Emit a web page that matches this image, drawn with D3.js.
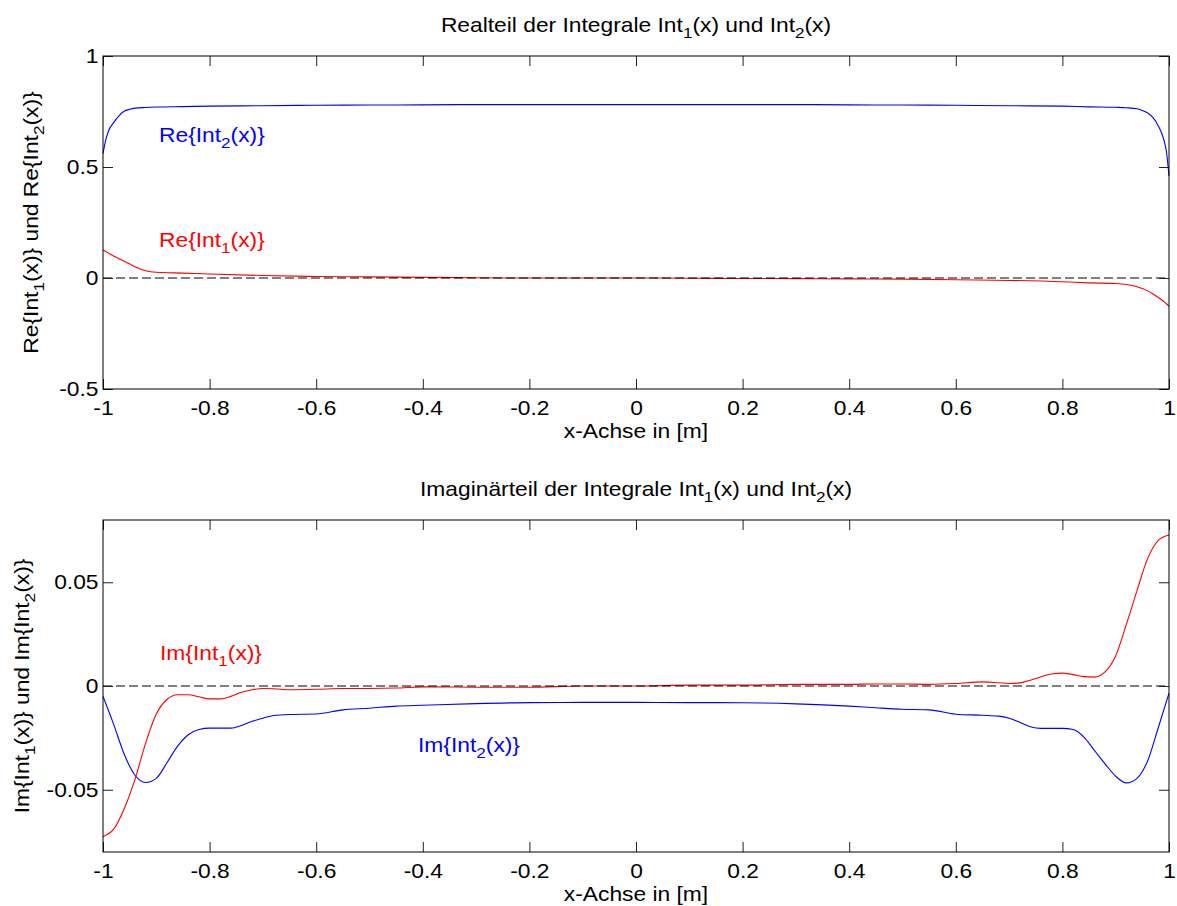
<!DOCTYPE html>
<html>
<head>
<meta charset="utf-8">
<script src="https://cdn.jsdelivr.net/npm/d3@7"></script>
<style>
  html, body { margin: 0; padding: 0; background: #fff; }
  svg { display: block; font-family: "Liberation Sans", Arial, Helvetica, sans-serif; }
</style>
</head>
<body>
<svg id="fig" width="1177" height="906"></svg>
<script>
// ---------- data ----------
// Real parts
const reX = [-1, -0.995, -0.99, -0.98, -0.97, -0.96, -0.95, -0.94, -0.92, -0.9, -0.85, -0.8, -0.7, -0.6, -0.5, -0.4, -0.3, -0.2, -0.1, 0,
             0.1, 0.2, 0.3, 0.4, 0.5, 0.6, 0.7, 0.8, 0.85, 0.9, 0.92, 0.94, 0.95, 0.96, 0.97, 0.98, 0.99, 0.995, 1];
const reInt1 = [0.126, 0.119, 0.112, 0.099, 0.087, 0.075, 0.063, 0.051, 0.033, 0.026, 0.022, 0.018, 0.011, 0.007, 0.005, 0.003, 0.001, 0.0, 0.0, 0.0,
                -0.001, -0.002, -0.003, -0.004, -0.005, -0.008, -0.011, -0.017, -0.022, -0.025, -0.029, -0.039, -0.047, -0.058, -0.072, -0.088, -0.106, -0.116, -0.128];
const reInt2 = [0.56, 0.62, 0.66, 0.70, 0.73, 0.752, 0.760, 0.765, 0.768, 0.770, 0.772, 0.774, 0.776, 0.778, 0.779, 0.780, 0.781, 0.781, 0.781, 0.781,
                0.781, 0.781, 0.781, 0.780, 0.779, 0.778, 0.776, 0.774, 0.771, 0.769, 0.767, 0.762, 0.755, 0.743, 0.722, 0.685, 0.625, 0.572, 0.46];

// Imaginary parts
const imX = [-1, -0.98, -0.96, -0.94, -0.92, -0.9, -0.88, -0.86, -0.84, -0.82, -0.8, -0.78, -0.76, -0.74, -0.72, -0.7, -0.68, -0.65, -0.6, -0.55,
             -0.5, -0.45, -0.4, -0.3, -0.2, -0.1, 0, 0.1, 0.2, 0.3, 0.4, 0.45, 0.5, 0.55, 0.6, 0.65, 0.68, 0.7, 0.72, 0.74,
             0.76, 0.78, 0.8, 0.82, 0.84, 0.86, 0.88, 0.9, 0.92, 0.94, 0.96, 0.98, 1];
const imInt1 = [-0.0726, -0.069, -0.059, -0.045, -0.0275, -0.0135, -0.0065, -0.0042, -0.0042, -0.0052, -0.0062, -0.0062, -0.005, -0.003, -0.0018, -0.0012, -0.0013, -0.0018, -0.0016, -0.0012,
                -0.0012, -0.001, -0.0004, -0.0006, -0.0006, 0, 0, 0.0004, 0.0004, 0.0008, 0.0008, 0.001, 0.001, 0.0008, 0.0012, 0.002, 0.0016, 0.0012, 0.0015, 0.0028,
                0.0045, 0.0058, 0.0062, 0.0055, 0.0045, 0.0043, 0.0068, 0.0145, 0.0297, 0.046, 0.0615, 0.0702, 0.0728];
const imInt2 = [-0.005, -0.0185, -0.033, -0.043, -0.0465, -0.0445, -0.037, -0.029, -0.0235, -0.021, -0.0203, -0.0203, -0.0203, -0.019, -0.017, -0.0155, -0.0142, -0.0137, -0.0135, -0.0115,
                -0.0107, -0.0097, -0.0093, -0.0085, -0.008, -0.0079, -0.0079, -0.008, -0.0081, -0.0086, -0.0097, -0.0105, -0.0112, -0.0115, -0.0136, -0.0141, -0.0145, -0.0155, -0.0175, -0.0196,
                -0.0204, -0.0204, -0.0204, -0.021, -0.0245, -0.031, -0.0375, -0.0435, -0.0467, -0.0445, -0.036, -0.02, -0.0035];

// Tick values and labels
const xTicks = [-1, -0.8, -0.6, -0.4, -0.2, 0, 0.2, 0.4, 0.6, 0.8, 1];
const xTickLabels = ["-1", "-0.8", "-0.6", "-0.4", "-0.2", "0", "0.2", "0.4", "0.6", "0.8", "1"];
const reYTicks = [-0.5, 0, 0.5, 1];
const reYTickLabels = ["-0.5", "0", "0.5", "1"];
const imYTicks = [-0.05, 0, 0.05];
const imYTickLabels = ["-0.05", "0", "0.05"];

// ---------- figure ----------
const W = 1177, H = 906;
const FS = 20;          // base font size
const SX = 1.14;        // horizontal glyph stretch of the figure text
const svg = d3.select("#fig");
svg.append("rect").attr("width", W).attr("height", H).attr("fill", "#fff");

// Text with optional subscripts: parts = [[string, isSub], ...]
function richText(parent, x, y, parts, opts = {}) {
  const g = parent.append("g")
    .attr("transform", `translate(${x},${y}) rotate(${opts.rotate || 0}) scale(${SX},1)`);
  const t = g.append("text")
    .attr("x", 0).attr("y", 0)
    .attr("font-size", FS)
    .attr("text-anchor", opts.anchor || "start")
    .attr("fill", opts.color || "#000");
  let shifted = false;
  parts.forEach(([s, sub]) => {
    const ts = t.append("tspan").text(s);
    if (sub && !shifted) { ts.attr("font-size", 15).attr("dy", 6); shifted = true; }
    else if (!sub && shifted) { ts.attr("dy", -6); shifted = false; }
  });
  return t;
}

function panel(cfg) {
  const left = 103, right = 1169;
  const x = d3.scaleLinear().domain([-1, 1]).range([left, right]);
  const y = d3.scaleLinear().domain(cfg.yDomain).range([cfg.bottom, cfg.top]);
  const g = svg.append("g");

  // curves
  const line = d3.line()
    .x(d => x(d[0]))
    .y(d => y(d[1]))
    .curve(d3.curveMonotoneX);
  cfg.series.forEach(s => {
    g.append("path")
      .datum(cfg.xs.map((v, i) => [v, s.values[i]]))
      .attr("d", line)
      .attr("fill", "none")
      .attr("stroke", s.color)
      .attr("stroke-width", 1.1);
  });

  // zero reference line
  g.append("line")
    .attr("x1", x(-1)).attr("x2", x(1))
    .attr("y1", y(0)).attr("y2", y(0))
    .attr("stroke", "#000").attr("stroke-width", 1)
    .attr("stroke-dasharray", "9,4");

  // axes (ticks pointing inward, MATLAB style)
  const tickStyle = sel => {
    sel.select(".domain").remove();
    sel.selectAll(".tick line").attr("stroke", "#222");
  };
  const xb = g.append("g").attr("transform", `translate(0,${cfg.bottom})`)
    .call(d3.axisBottom(x).tickValues(xTicks).tickSize(-10).tickPadding(12)
      .tickFormat((d, i) => xTickLabels[i]));
  xb.call(tickStyle);
  xb.selectAll(".tick text").attr("font-size", FS).attr("font-family", null).attr("fill", "#000")
    .attr("transform", `scale(${SX},1)`);

  g.append("g").attr("transform", `translate(0,${cfg.top})`)
    .call(d3.axisTop(x).tickValues(xTicks).tickSize(-10).tickFormat(""))
    .call(tickStyle);

  const yl = g.append("g").attr("transform", `translate(${left},0)`)
    .call(d3.axisLeft(y).tickValues(cfg.yTicks).tickSize(-10).tickPadding(4.5)
      .tickFormat((d, i) => cfg.yTickLabels[i]));
  yl.call(tickStyle);
  yl.selectAll(".tick text").attr("font-size", FS).attr("font-family", null).attr("fill", "#000")
    .attr("x", -4.5 / SX).attr("transform", `scale(${SX},1)`);

  g.append("g").attr("transform", `translate(${right},0)`)
    .call(d3.axisRight(y).tickValues(cfg.yTicks).tickSize(-10).tickFormat(""))
    .call(tickStyle);

  // box
  g.append("rect")
    .attr("x", left).attr("y", cfg.top)
    .attr("width", right - left).attr("height", cfg.bottom - cfg.top)
    .attr("fill", "none").attr("stroke", "#000").attr("stroke-width", 1);

  // title, axis labels, annotations
  richText(svg, (left + right) / 2, cfg.top - 24, cfg.title, { anchor: "middle" });
  richText(svg, (left + right) / 2, cfg.bottom + 49, [["x-Achse in [m]"]], { anchor: "middle" });
  richText(svg, cfg.ylabelX, (cfg.top + cfg.bottom) / 2, cfg.ylabel, { anchor: "middle", rotate: -90 });
  cfg.notes.forEach(n => richText(svg, n.x, n.y, n.parts, { color: n.color }));
}

panel({
  top: 56, bottom: 389,
  yDomain: [-0.5, 1],
  yTicks: reYTicks, yTickLabels: reYTickLabels,
  xs: reX,
  series: [
    { values: reInt2, color: "#0000ff" },
    { values: reInt1, color: "#ff0000" }
  ],
  title: [["Realteil der Integrale Int"], ["1", true], ["(x) und Int"], ["2", true], ["(x)"]],
  ylabel: [["Re{Int"], ["1", true], ["(x)} und Re{Int"], ["2", true], ["(x)}"]],
  ylabelX: 38,
  notes: [
    { x: 159, y: 142, color: "#0000ff", parts: [["Re{Int"], ["2", true], ["(x)}"]] },
    { x: 159, y: 247, color: "#ff0000", parts: [["Re{Int"], ["1", true], ["(x)}"]] }
  ]
});

panel({
  top: 520, bottom: 852,
  yDomain: [-0.08, 0.08],
  yTicks: imYTicks, yTickLabels: imYTickLabels,
  xs: imX,
  series: [
    { values: imInt2, color: "#0000ff" },
    { values: imInt1, color: "#ff0000" }
  ],
  title: [["Imaginärteil der Integrale Int"], ["1", true], ["(x) und Int"], ["2", true], ["(x)"]],
  ylabel: [["Im{Int"], ["1", true], ["(x)} und Im{Int"], ["2", true], ["(x)}"]],
  ylabelX: 29,
  notes: [
    { x: 160, y: 660, color: "#ff0000", parts: [["Im{Int"], ["1", true], ["(x)}"]] },
    { x: 418, y: 752, color: "#0000ff", parts: [["Im{Int"], ["2", true], ["(x)}"]] }
  ]
});
</script>
</body>
</html>
